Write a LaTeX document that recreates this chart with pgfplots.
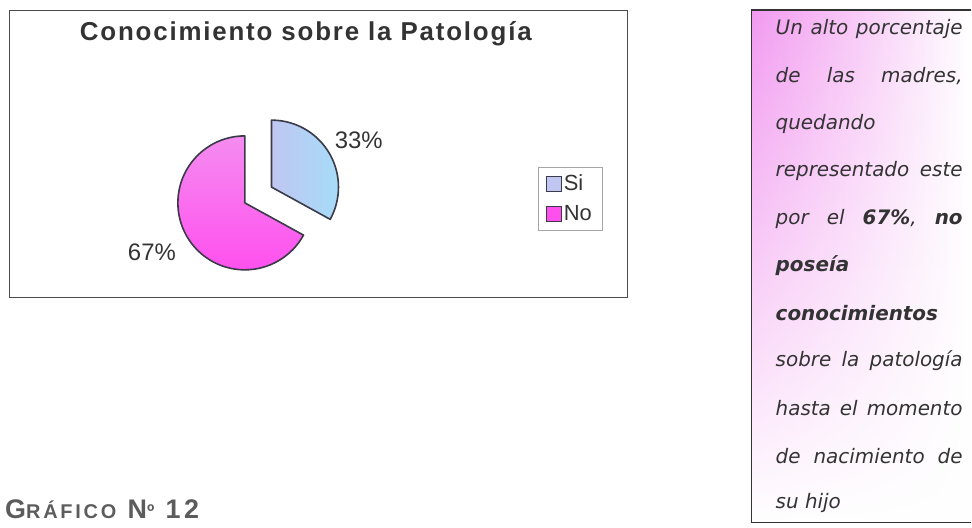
\documentclass[border=0pt]{standalone}
\usepackage{pgfplots}
\pgfplotsset{compat=1.18}
\usetikzlibrary{fadings}
\usepackage{fontspec}
\setmainfont{Liberation Sans}
\newfontfamily\comic{DejaVu Sans}
\definecolor{txt}{HTML}{333333}
\definecolor{edge}{HTML}{3A3A48}
\definecolor{siA}{HTML}{C0C6F2}
\definecolor{siB}{HTML}{A6DCF8}
\definecolor{noA}{HTML}{F58CF0}
\definecolor{noB}{HTML}{FF50EE}
\definecolor{boxpink}{HTML}{F29AF0}
\begin{document}
\begin{tikzpicture}
% pie values (percent)
\def\vSi{33}
\def\vNo{67}
\pgfmathsetmacro\aSi{\vSi/(\vSi+\vNo)*360}
\pgfmathsetmacro\aNo{\vNo/(\vSi+\vNo)*360}
\pgfmathsetmacro\midSi{90-\aSi/2}
\pgfmathsetmacro\endSi{90-\aSi}
\pgfmathsetmacro\endNo{90+\aNo}
\begin{axis}[x=1bp, y=1bp, y dir=reverse, xmin=0, xmax=972, ymin=0, ymax=528,
  hide axis, enlargelimits=false, clip=false, scale only axis,
  legend style={at={(axis cs:538,167)}, anchor=north west, draw=gray!70, fill=white,
    font=\fontsize{22}{26}\selectfont\color{txt}, row sep=9bp, inner xsep=8bp, inner ysep=6bp,
    /tikz/every even column/.append style={column sep=2bp}},
  legend image code/.code={\draw[#1] (0bp,-7.5bp) rectangle (15bp,7.5bp);},
  legend cell align=left]
\path (axis cs:0,0) (axis cs:972,528);
% chart frame
\draw[gray!60!black, line width=1bp] (axis cs:10,11) rectangle (axis cs:628,298);
\node[font=\bfseries\fontsize{26}{30}\selectfont, text=txt] at (axis cs:306,34)
  {\addfontfeature{LetterSpace=7}Conocimiento sobre la Patología};
% No slice
\shadedraw[top color=noA, bottom color=noB, draw=edge, line width=1.6bp, line join=round]
  (axis cs:245,203) -- ++(90:67bp) arc[start angle=90, end angle=\endNo, radius=67bp] -- cycle;
% Si slice (exploded)
\shadedraw[left color=siA, right color=siB, draw=edge, line width=1.6bp, line join=round, shift={(\midSi:31bp)}]
  (axis cs:245,203) -- ++(90:67bp) arc[start angle=90, end angle=\endSi, radius=67bp] -- cycle;
\node[font=\fontsize{24}{28}\selectfont, text=txt] at (axis cs:359,140) {\vSi\%};
\node[font=\fontsize{24}{28}\selectfont, text=txt] at (axis cs:152,252) {\vNo\%};
\addlegendimage{fill=siA, draw=edge, line width=1bp}
\addlegendentry{Si}
\addlegendimage{fill=noB, draw=edge, line width=1bp}
\addlegendentry{No}
% text box (its right side runs past the page edge)
\fill[white] (axis cs:752,10) rectangle (axis cs:972,523);
\shade[left color=boxpink, right color=white, path fading=south] (axis cs:752,10) rectangle (axis cs:972,523);
\draw[gray!40!black, line width=1.2bp] (axis cs:972,10) -- (axis cs:752,10) -- (axis cs:752,523) -- (axis cs:972,523);
\begin{scope}[every node/.style={anchor=west, font=\comic\itshape\fontsize{20}{24}\selectfont, text=txt, inner sep=0pt}]
\node at (axis cs:776,29) {\hbox to 187bp{Un\hfill alto\hfill porcentaje}};
\node at (axis cs:776,76) {\hbox to 187bp{de\hfill las\hfill madres,}};
\node at (axis cs:776,124) {quedando};
\node at (axis cs:776,171) {\hbox to 187bp{representado\hfill este}};
\node at (axis cs:776,219) {\hbox to 187bp{por\hfill el\hfill \textbf{67\%},\hfill \textbf{no}}};
\node at (axis cs:776,266) {\textbf{poseía}};
\node at (axis cs:776,313) {\textbf{conocimientos}};
\node at (axis cs:776,361) {\hbox to 187bp{sobre\hfill la\hfill patología}};
\node at (axis cs:776,408) {\hbox to 187bp{hasta\hfill el\hfill momento}};
\node at (axis cs:776,456) {\hbox to 187bp{de\hfill nacimiento\hfill de}};
\node at (axis cs:776,503) {su hijo};
\end{scope}
% caption
\node[anchor=west, inner sep=0pt, font=\bfseries\fontsize{27}{30}\selectfont, text=txt!80!white] at (axis cs:5,510)
  {\addfontfeature{LetterSpace=14}G{\fontsize{20}{24}\selectfont RÁFICO} N{\fontsize{20}{24}\selectfont º} 12};
\end{axis}
\end{tikzpicture}
\end{document}
